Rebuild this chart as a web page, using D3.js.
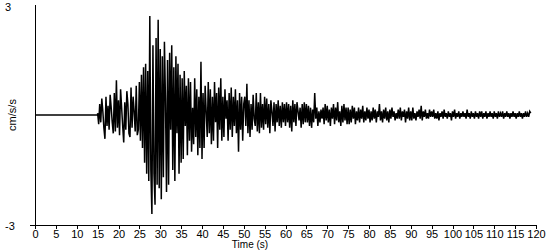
<!DOCTYPE html>
<html>
<head>
<meta charset="utf-8">
<script src="https://cdn.jsdelivr.net/npm/d3@7"></script>
<style>
  body { margin: 0; background: #fff; }
  svg { display: block; }
  text { font-family: "Liberation Sans", Arial, sans-serif; font-size: 11px; fill: #000; }
</style>
</head>
<body>
<div id="chart"></div>
<script>
// time axis ticks (s)
var xTicks = [0, 5, 10, 15, 20, 25, 30, 35, 40, 45, 50, 55, 60, 65, 70, 75, 80, 85, 90, 95, 100, 105, 110, 115, 120];
var yLabels = [3, -3];

// quiet part before the arrival (time, cm/s/s)
var preEvent = [[0, 0], [15, 0]];

// record from 15 s on, one sample every 0.25 s (cm/s/s)
var sampleStart = 15;
var sampleStep = 0.25;
var accel = [
  // 15 - 20
  0.05,-0.25,0.3,-0.2,0.45,0.1,-0.35,-0.65,0.5,-0.3,0.25,-0.4,0.55,0.2,-0.2,-0.5,0.6,-0.45,0.95,-0.35,
  // 20 - 25
  0.4,-0.55,0.7,0.2,-0.3,-0.75,0.35,-0.4,0.65,0.3,-0.5,-0.6,0.75,-0.35,0.5,0.1,-0.45,0.8,-0.55,-0.4,
  // 25 - 30
  0.9,-0.7,1.1,-0.9,1.3,-1.3,1.4,-1.6,1.2,-1.8,2.7,-1.5,-2.7,1.9,-1.6,-2.45,2.1,-1.9,2.6,-2.0,
  // 30 - 35
  1.8,-2.3,1.6,-1.7,2.0,0.4,-2.1,1.5,-1.9,1.7,-0.4,1.9,-1.5,1.3,-1.8,1.6,-0.5,1.4,-1.6,1.1,
  // 35 - 40
  -1.3,1.0,-1.2,1.2,-0.3,0.8,-1.1,1.0,-0.7,0.9,-1.0,0.2,-0.8,1.0,-0.6,0.7,-1.1,0.5,-0.9,1.45,
  // 40 - 45
  -1.2,0.6,-0.9,0.8,0.1,-0.6,0.9,-0.5,0.7,-0.8,0.5,-0.7,0.9,-0.2,0.6,-0.9,0.75,-0.4,1.0,-0.7,
  // 45 - 50
  0.5,-0.6,0.7,-0.1,0.4,-0.7,0.6,-0.4,0.75,-0.6,0.5,-0.3,0.7,-0.5,0.4,-1.0,0.6,-0.4,0.5,-0.7,
  // 50 - 55
  0.3,0.5,-0.3,0.85,-0.5,0.4,-0.6,0.3,-0.4,0.55,-0.1,-0.3,0.6,-0.45,0.35,-0.5,0.6,-0.35,0.3,-0.4,
  // 55 - 60
  0.5,-0.25,0.45,-0.35,0.3,-0.5,0.4,0.1,-0.3,0.35,-0.45,0.3,-0.2,0.4,-0.3,0.25,-0.35,0.35,-0.2,0.3,
  // 60 - 65
  -0.3,0.35,-0.2,0.3,-0.35,0.25,-0.45,0.4,-0.2,0.3,-0.3,0.35,0.1,-0.15,0.2,-0.35,0.3,-0.25,0.35,-0.2,
  // 65 - 70
  0.3,-0.2,0.25,-0.3,0.2,-0.35,0.15,-0.2,0.6,-0.1,0.2,-0.3,0.1,-0.2,0.15,-0.1,0.2,-0.25,0.3,-0.15,
  // 70 - 75
  0.25,-0.2,0.15,-0.3,0.2,-0.1,0.3,-0.25,0.2,-0.15,0.35,-0.2,0.1,-0.3,0.25,-0.2,0.3,-0.15,0.2,-0.25,
  // 75 - 80
  0.2,-0.25,0.15,-0.2,0.25,-0.1,0.2,-0.25,0.1,-0.15,0.2,-0.2,0.15,-0.1,0.25,-0.2,0.1,-0.15,0.2,-0.1,
  // 80 - 85
  0.15,-0.2,0.1,-0.15,0.2,-0.1,0.15,-0.2,0.1,-0.05,0.3,-0.15,0.1,-0.2,0.15,-0.1,0.2,-0.15,0.1,-0.2,
  // 85 - 90
  0.15,-0.1,0.2,-0.05,0.1,-0.15,0.05,-0.1,0.15,-0.1,0.2,-0.15,0.1,-0.05,0.15,-0.2,0.1,-0.1,0.2,-0.15,
  // 90 - 95
  0.1,-0.15,0.2,-0.1,0.05,-0.15,0.1,-0.05,0.15,-0.1,0.25,-0.15,0.1,-0.05,0.15,-0.1,0.05,-0.1,0.15,-0.05,
  // 95 - 100
  0.1,-0.05,0.15,-0.1,0.05,-0.1,0.1,-0.15,0.05,-0.05,0.1,-0.1,0.15,-0.05,0.05,-0.1,0.1,-0.05,0.05,-0.15,
  // 100 - 105
  0.1,-0.05,0.15,-0.1,0.05,-0.05,0.1,-0.1,0.05,-0.05,0.1,-0.05,0.05,-0.1,0.15,-0.05,0.05,-0.1,0.1,-0.05,
  // 105 - 110
  0.05,-0.1,0.1,-0.05,0.05,-0.1,0.1,-0.05,0.1,-0.1,0.05,-0.05,0.1,-0.1,0.05,-0.05,0.1,-0.05,0.05,-0.1,
  // 110 - 115
  0.1,-0.05,0.05,-0.1,0.1,-0.05,0.05,-0.05,0.1,-0.1,0.05,-0.05,0.1,-0.05,0.05,-0.1,0.05,-0.05,0.1,-0.05,
  // 115 - 119
  0.05,-0.1,0.05,-0.05,0.1,-0.05,0.05,-0.1,0.05,-0.05,0.1,-0.05,0.05,-0.05,0.1,0.05
];

var width = 550, height = 250;

var svg = d3.select("#chart")
  .append("svg")
    .attr("width", width)
    .attr("height", height);

var x = d3.scaleLinear().domain([0, 120]).range([35, 536]);
var y = d3.scaleLinear().domain([-3, 3]).range([225, 5]);

// build the trace points
var trace = preEvent.slice();
accel.forEach(function(v, i) {
  trace.push([sampleStart + i * sampleStep, v]);
});

var line = d3.line()
  .x(function(d) { return x(d[0]); })
  .y(function(d) { return y(d[1]); });

svg.append("path")
  .datum(trace)
  .attr("d", line)
  .attr("fill", "none")
  .attr("stroke", "#000")
  .attr("stroke-width", 1.5);

// y axis line (no ticks)
svg.append("line")
  .attr("x1", 35.5).attr("x2", 35.5)
  .attr("y1", y(3)).attr("y2", y(-3))
  .attr("stroke", "#000")
  .attr("shape-rendering", "crispEdges");

// x axis
var xAxis = svg.append("g")
  .attr("transform", "translate(0," + y(-3) + ")")
  .call(d3.axisBottom(x).tickValues(xTicks).tickSize(4).tickSizeOuter(0).tickPadding(1));

xAxis.select(".domain").remove();
xAxis.append("line")
  .attr("x1", 30).attr("x2", x(120))
  .attr("y1", 0.5).attr("y2", 0.5)
  .attr("stroke", "#000")
  .attr("shape-rendering", "crispEdges");
xAxis.selectAll(".tick line").attr("shape-rendering", "crispEdges");
xAxis.selectAll("text")
  .style("font-family", "'Liberation Sans', Arial, sans-serif")
  .style("font-size", "11px");

// y labels at the ends
svg.selectAll(".ylab")
  .data(yLabels)
  .enter()
  .append("text")
    .attr("class", "ylab")
    .attr("x", 5)
    .attr("y", function(d) { return y(d) + (d > 0 ? 6 : 5); })
    .text(function(d) { return d; });

// axis titles
svg.append("text")
  .attr("text-anchor", "middle")
  .attr("transform", "translate(16," + y(0) + ") rotate(-90)")
  .text("cm/s/s");

svg.append("text")
  .attr("x", 250)
  .attr("y", 247.5)
  .style("font-size", "10px")
  .attr("text-anchor", "middle")
  .text("Time (s)");
</script>
</body>
</html>
